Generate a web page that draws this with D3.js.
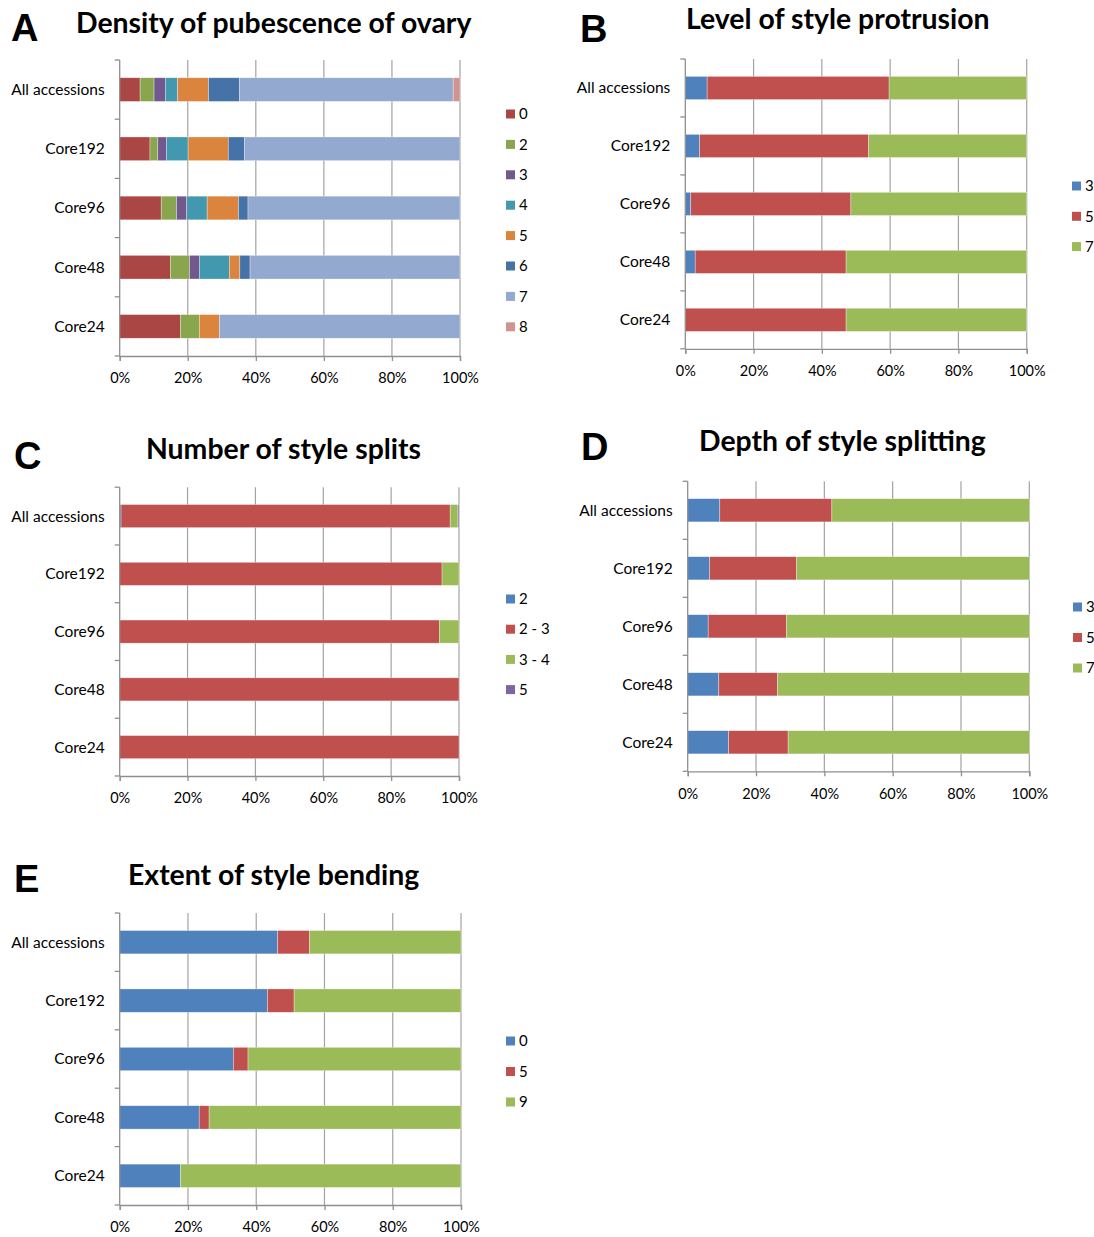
<!DOCTYPE html>
<html>
<head>
<meta charset="utf-8">
<script src="https://cdn.jsdelivr.net/npm/d3@7"></script>
<style>
  html, body { margin: 0; padding: 0; background: #fff; }
  svg { display: block; font-family: Lato, "Open Sans", sans-serif; }
</style>
</head>
<body>
<svg id="fig" width="1094" height="1237"></svg>
<script>
// Shared categories and axis ticks
const categories = ["All accessions", "Core192", "Core96", "Core48", "Core24"];
const pctTicks = [0, 20, 40, 60, 80, 100];

// A: density of pubescence of ovary (% per class, one row per class)
const ovaryClasses = ["0", "2", "3", "4", "5", "6", "7", "8"];
const ovaryPct = [
  [6.0, 8.9, 12.2, 14.9, 17.8],   // 0
  [4.1, 2.3, 4.5, 5.6, 5.6],      // 2
  [3.3, 2.5, 3.0, 2.9, 0],        // 3
  [3.6, 6.4, 6.0, 8.8, 0],        // 4
  [9.1, 11.8, 9.2, 3.1, 5.9],     // 5
  [9.1, 4.8, 2.8, 3.0, 0],        // 6
  [62.8, 63.3, 62.3, 61.7, 70.7], // 7
  [2.0, 0, 0, 0, 0]               // 8
];

// B: level of style protrusion
const protrusionClasses = ["3", "5", "7"];
const protrusionPct = [
  [6.4, 4.2, 1.6, 2.9, 0],
  [53.3, 49.5, 46.9, 44.2, 47.1],
  [40.3, 46.3, 51.5, 52.9, 52.9]
];

// C: number of style splits
const splitClasses = ["2", "2 - 3", "3 - 4", "5"];
const splitPct = [
  [0.4, 0, 0, 0, 0],
  [97.0, 95.0, 94.2, 100, 100],
  [2.3, 5.0, 5.8, 0, 0],
  [0.3, 0, 0, 0, 0]
];

// D: depth of style splitting
const depthClasses = ["3", "5", "7"];
const depthPct = [
  [9.4, 6.4, 6.0, 9.1, 12.0],
  [32.8, 25.5, 22.9, 17.2, 17.4],
  [57.8, 68.1, 71.1, 73.7, 70.6]
];

// E: extent of style bending
const bendingClasses = ["0", "5", "9"];
const bendingPct = [
  [46.3, 43.3, 33.3, 23.3, 17.8],
  [9.3, 7.8, 4.3, 2.9, 0],
  [44.4, 48.9, 62.4, 73.8, 82.2]
];

// Palettes
const ovaryColors = ["#AA4643", "#89A54E", "#71588F", "#4198AF", "#DB843D", "#4572A7", "#93A9CF", "#D19392"];
const officeColors = ["#4F81BD", "#C0504D", "#9BBB59", "#8064A2"];

const svg = d3.select("#fig");
const gridColor = "#a3a3a3";
const axisColor = "#8f8f8f";

function drawPanel(p) {
  const g = svg.append("g");

  // panel letter and title
  g.append("text").attr("x", p.letter[0]).attr("y", p.letter[1])
    .attr("font-family", "Liberation Sans, Arial, sans-serif")
    .attr("font-weight", "bold").attr("font-size", 38).attr("fill", "#000")
    .text(p.letterText);
  g.append("text").attr("x", p.title[0]).attr("y", p.title[1])
    .attr("font-weight", "bold").attr("font-size", 28.4).attr("fill", "#000")
    .text(p.titleText);

  const x = d3.scaleLinear().domain([0, 100]).range([p.x0, p.x1]);
  const y = d3.scaleBand().domain(categories).range([p.y0, p.y1])
    .paddingInner(0.6).paddingOuter(0.3);
  const step = (p.y1 - p.y0) / categories.length;

  // vertical gridlines
  g.append("g").selectAll("line").data(pctTicks.slice(1)).join("line")
    .attr("x1", d => x(d)).attr("x2", d => x(d))
    .attr("y1", p.y0).attr("y2", p.y1)
    .attr("stroke", gridColor).attr("stroke-width", 1.2);

  // stacked bars
  const rows = categories.map((c, i) => {
    const o = { cat: c };
    p.keys.forEach((k, j) => { o[k] = p.values[j][i]; });
    return o;
  });
  const stacked = d3.stack().keys(p.keys)(rows);
  g.append("g").selectAll("g").data(stacked).join("g")
    .attr("fill", (d, j) => p.colors[j])
    .selectAll("rect").data(d => d).join("rect")
    .attr("x", d => x(d[0]))
    .attr("width", d => Math.max(0, x(d[1]) - x(d[0])))
    .attr("y", d => y(d.data.cat))
    .attr("height", y.bandwidth())
    .attr("stroke", "rgba(255,255,255,0.55)")
    .attr("stroke-width", 0.6);

  // y axis with ticks between categories
  const yTicks = d3.range(categories.length + 1).map(i => p.y0 + i * step);
  g.append("line").attr("x1", p.x0).attr("x2", p.x0).attr("y1", p.y0).attr("y2", p.y1)
    .attr("stroke", axisColor).attr("stroke-width", 1.3);
  g.append("g").selectAll("line").data(yTicks).join("line")
    .attr("x1", p.x0 - 5).attr("x2", p.x0).attr("y1", d => d).attr("y2", d => d)
    .attr("stroke", axisColor).attr("stroke-width", 1.3);

  // x axis
  const xAxis = d3.axisBottom(x).tickValues(pctTicks).tickSize(5).tickPadding(12)
    .tickFormat(d => d + "%");
  const ax = g.append("g").attr("transform", `translate(0,${p.y1})`).call(xAxis);
  ax.select(".domain").attr("stroke", axisColor).attr("stroke-width", 1.3);
  ax.selectAll(".tick line").attr("stroke", axisColor).attr("stroke-width", 1.3);
  ax.selectAll(".tick text").attr("font-family", "Lato, sans-serif")
    .attr("font-size", 14.5).attr("fill", "#000");

  // category labels
  g.append("g").selectAll("text").data(categories).join("text")
    .attr("x", p.x0 - 15)
    .attr("y", d => y(d) + y.bandwidth() / 2)
    .attr("dy", "0.35em").attr("text-anchor", "end")
    .attr("font-size", 15.5).attr("fill", "#000")
    .text(d => d);

  // legend
  const lg = g.append("g").selectAll("g").data(p.keys).join("g")
    .attr("transform", (d, i) => `translate(${p.legend[0]},${p.legend[1] + i * p.legendStep})`);
  lg.append("rect").attr("x", 0).attr("y", -4.5).attr("width", 9).attr("height", 9)
    .attr("fill", (d, i) => p.colors[i]);
  lg.append("text").attr("x", 13).attr("y", 0).attr("dy", "0.35em")
    .attr("font-size", 15).attr("fill", "#000").text(d => d);
}

drawPanel({
  letterText: "A", letter: [11, 41], titleText: "Density of pubescence of ovary", title: [76, 33],
  x0: 119.7, x1: 460, y0: 60, y1: 356,
  keys: ovaryClasses, values: ovaryPct, colors: ovaryColors,
  legend: [506, 114], legendStep: 30.4
});
drawPanel({
  letterText: "B", letter: [580, 42], titleText: "Level of style protrusion", title: [686, 29],
  x0: 685.3, x1: 1026.7, y0: 59, y1: 348.8,
  keys: protrusionClasses, values: protrusionPct, colors: officeColors,
  legend: [1072, 186], legendStep: 30.3
});
drawPanel({
  letterText: "C", letter: [14, 469], titleText: "Number of style splits", title: [146, 459],
  x0: 119.7, x1: 459, y0: 487.2, y1: 776,
  keys: splitClasses, values: splitPct, colors: officeColors,
  legend: [506, 599], legendStep: 30.2
});
drawPanel({
  letterText: "D", letter: [581, 460], titleText: "Depth of style splitting", title: [699, 451],
  x0: 687.7, x1: 1029.3, y0: 481.3, y1: 771.3,
  keys: depthClasses, values: depthPct, colors: officeColors,
  legend: [1073, 607], legendStep: 30.5
});
drawPanel({
  letterText: "E", letter: [14, 892], titleText: "Extent of style bending", title: [128, 885],
  x0: 119.7, x1: 461, y0: 913, y1: 1205,
  keys: bendingClasses, values: bendingPct, colors: officeColors,
  legend: [506, 1041], legendStep: 30.5
});
</script>
</body>
</html>
